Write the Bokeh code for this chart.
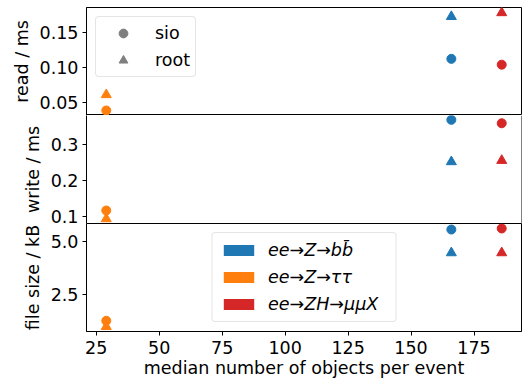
from bokeh.plotting import figure
from bokeh.layouts import column
from bokeh.models import (Range1d, FixedTicker, PrintfTickFormatter, Legend, LegendItem,
                          ColumnDataSource, LinearAxis, Span)
from bokeh.embed import file_html
from bokeh.resources import INLINE

# ---------------- data ----------------
processes = ["ee\u2192Z\u2192bb\u0304", "ee\u2192Z\u2192\u03c4\u03c4", "ee\u2192ZH\u2192\u03bc\u03bcX"]
colors = ["#1f77b4", "#ff7f0e", "#d62728"]
n_objects = [166, 29, 186]
read_sio = [0.112, 0.0386, 0.1037]
read_root = [0.172, 0.061, 0.1775]
write_sio = [0.3686, 0.1167, 0.359]
write_root = [0.252, 0.0936, 0.2556]
size_sio = [5.55, 1.245, 5.60]
size_root = [4.45, 0.97, 4.45]

x_ticks = [25, 50, 75, 100, 125, 150, 175]
read_ticks = [0.05, 0.10, 0.15]
write_ticks = [0.1, 0.2, 0.3]
size_ticks = [2.5, 5.0]

FONT = "DejaVu Sans"
FS = "17.5px"
GRAY = "#7f7f7f"
NAN = float("nan")

src = ColumnDataSource(dict(x=n_objects, rs=read_sio, rr=read_root, ws=write_sio,
                            wr=write_root, ss=size_sio, sr=size_root, c=colors))

x_range = Range1d(21.15, 193.85)


def make_fig(height, y_range, ticks, fmt, ylabel, btop, bbottom, outline=True):
    p = figure(width=522, height=height, x_range=x_range, y_range=y_range,
               output_backend="svg", toolbar_location=None, tools="",
               x_axis_location=None, y_axis_location="left",
               min_border_left=86, min_border_right=1,
               min_border_top=btop, min_border_bottom=bbottom)
    p.xgrid.visible = False
    p.ygrid.visible = False
    p.outline_line_color = "black" if outline else None
    p.outline_line_width = 1
    p.outline_line_alpha = 1
    ax = p.yaxis[0]
    ax.ticker = FixedTicker(ticks=ticks)
    ax.formatter = PrintfTickFormatter(format=fmt)
    ax.axis_label = ylabel
    ax.axis_label_text_font = FONT
    ax.axis_label_text_font_size = FS
    ax.axis_label_text_font_style = "normal"
    ax.axis_label_text_color = "black"
    ax.axis_label_standoff = 5
    ax.major_label_text_font = FONT
    ax.major_label_text_font_size = FS
    ax.major_label_text_color = "black"
    ax.major_label_text_line_height = 1.0
    ax.major_label_standoff = 4
    ax.major_tick_out = 4
    ax.major_tick_in = 0
    ax.minor_tick_line_color = None
    ax.axis_line_color = "black"
    ax.major_tick_line_color = "black"
    p.background_fill_color = "white"
    p.border_fill_color = "white"
    return p


p1 = make_fig(115, Range1d(0.0315, 0.185), read_ticks, "%.2f", "read / ms", 7, 0)
p2 = make_fig(108, Range1d(0.0806, 0.3806), write_ticks, "%.1f", "write / ms", 0, 0, outline=False)
p3 = make_fig(157, Range1d(0.74, 5.835), size_ticks, "%.1f", "file size / kB", 0, 49)

# right edge of the middle panel (its top/bottom edges come from the neighbouring panels)
p2.add_layout(Span(location=x_range.end, dimension="height", line_color="black", line_width=1))

xa = LinearAxis(ticker=FixedTicker(ticks=x_ticks), axis_label="median number of objects per event")
xa.axis_label_text_font = FONT
xa.axis_label_text_font_size = FS
xa.axis_label_text_font_style = "normal"
xa.axis_label_text_color = "black"
xa.axis_label_text_line_height = 1.0
xa.axis_label_standoff = 1
xa.major_label_text_font = FONT
xa.major_label_text_font_size = FS
xa.major_label_text_color = "black"
xa.major_label_text_line_height = 1.0
xa.major_label_standoff = 5
xa.major_tick_out = 4
xa.major_tick_in = 0
xa.minor_tick_line_color = None
xa.axis_line_color = "black"
p3.add_layout(xa, "below")

for p, ys, yr in ((p1, "rs", "rr"), (p2, "ws", "wr"), (p3, "ss", "sr")):
    p.scatter(x="x", y=ys, source=src, marker="circle", size=9, color="c", line_color="c")
    p.scatter(x="x", y=yr, source=src, marker="triangle", size=10, color="c", line_color="c")

# legend: io backend markers (legend-only renderers)
r_sio = p1.scatter(x=[NAN], y=[NAN], marker="circle", size=9, color=GRAY)
r_root = p1.scatter(x=[NAN], y=[NAN], marker="triangle", size=9, color=GRAY)
leg1 = Legend(items=[LegendItem(label="sio", renderers=[r_sio]),
                     LegendItem(label="root", renderers=[r_root])],
              location="top_left", margin=9, padding=5, spacing=5,
              glyph_width=44, glyph_height=22, label_height=20, label_standoff=10,
              label_text_font=FONT, label_text_font_size=FS, label_text_color="black",
              border_line_color="#cccccc", border_line_width=1,
              background_fill_color="white", background_fill_alpha=0.8)
p1.add_layout(leg1)

# legend: processes (legend-only renderers)
items = []
for name, c in zip(processes, colors):
    r = p3.quad(left=[NAN], right=[NAN], top=[NAN], bottom=[NAN], fill_color=c, line_color=None)
    items.append(LegendItem(label=name, renderers=[r]))
leg2 = Legend(items=items, location="bottom_center", margin=9, padding=7, spacing=7,
              glyph_width=38, glyph_height=14, label_height=20, label_width=120,
              label_standoff=11,
              label_text_font=FONT, label_text_font_size=FS, label_text_font_style="italic",
              label_text_color="black",
              border_line_color="#cccccc", border_line_width=1,
              background_fill_color="white", background_fill_alpha=0.8)
p3.add_layout(leg2)

for lg in (leg1, leg2):
    if "border_radius" in Legend.properties():
        lg.border_radius = 4

layout = column(p1, p2, p3, spacing=0)

open("out.html", "w").write(file_html(layout, INLINE))
